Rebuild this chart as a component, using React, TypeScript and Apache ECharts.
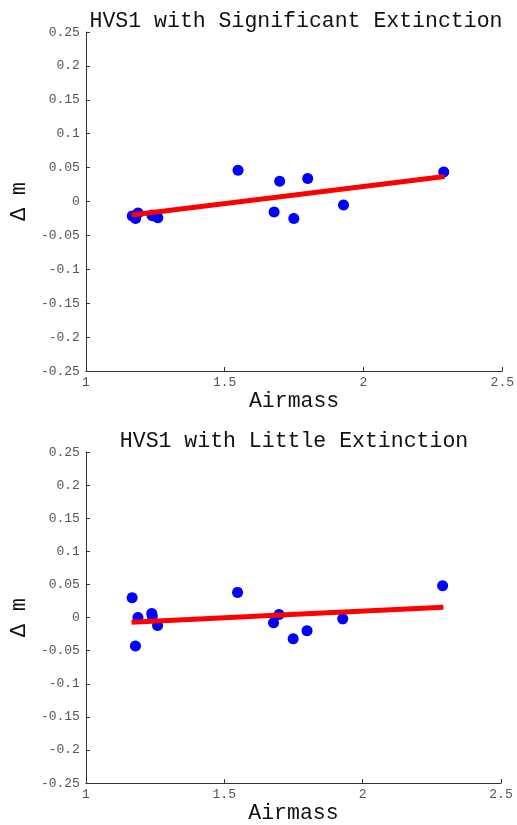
import React, { useEffect, useRef } from "react";
import * as echarts from "echarts";

const airmass = [1.167, 1.179, 1.188, 1.238, 1.240, 1.259, 1.548, 1.678, 1.698, 1.749, 1.799, 1.928, 2.289];
const dmSignificant = [-0.0214, -0.025, -0.017, -0.020, -0.021, -0.024, 0.046, -0.0155, 0.030, -0.025, 0.034, -0.005, 0.0435];
const dmLittle = [0.030, -0.043, 0.000, 0.006, 0.002, -0.012, 0.038, -0.008, 0.0045, -0.032, -0.020, -0.002, 0.048];
const fitX = [1.165, 2.292];
const fitSignificant = [-0.020, 0.037];
const fitLittle = [-0.007, 0.0157];
const titles = ["HVS1 with Significant Extinction", "HVS1 with Little Extinction"];
const xName = "Airmass";
const yName = "\u0394 m";

const FONT = "'Liberation Mono', 'DejaVu Sans Mono', monospace";

export default function App() {
  const ref = useRef<HTMLDivElement>(null);
  useEffect(() => {
    document.body.style.margin = "0";
    document.body.style.overflow = "hidden";
    const chart = echarts.init(ref.current!, undefined, { renderer: "svg" });
    const grids = [
      { left: 82, top: 32, width: 423, height: 339 },
      { left: 79, top: 452, width: 422, height: 339 },
    ];
    const mkX = (i: number) => ({
      type: "value",
      gridIndex: i,
      min: 1,
      max: 2.5,
      interval: 0.5,
      name: xName,
      nameLocation: "middle",
      nameGap: 18,
      nameTextStyle: { fontFamily: FONT, fontSize: 21.5, color: "#111", verticalAlign: "top" },
      axisLine: { show: true, onZero: false, lineStyle: { color: "#333", width: 1 } },
      axisTick: { show: true, inside: true, length: 4, lineStyle: { color: "#333" } },
      axisLabel: {
        fontFamily: FONT,
        fontSize: 13,
        color: "#555",
        margin: 5,
        formatter: (v: number) => String(Math.round(v * 10) / 10),
      },
      splitLine: { show: false },
    });
    const mkY = (i: number) => ({
      type: "value",
      gridIndex: i,
      min: -0.25,
      max: 0.25,
      interval: 0.05,
      name: yName,
      nameLocation: "middle",
      nameRotate: 90,
      nameGap: 52,
      nameTextStyle: { fontFamily: FONT, fontSize: 21.5, color: "#111" },
      axisLine: { show: true, onZero: false, lineStyle: { color: "#333", width: 1 } },
      axisTick: { show: true, inside: true, length: 4, lineStyle: { color: "#333" } },
      axisLabel: {
        fontFamily: FONT,
        fontSize: 13,
        color: "#555",
        margin: 6,
        formatter: (v: number) => String(Math.round(v * 100) / 100),
      },
      splitLine: { show: false },
    });
    const pts = (ys: number[]) => airmass.map((x, k) => [x, ys[k]]);
    const fit = (ys: number[]) => fitX.map((x, k) => [x, ys[k]]);
    chart.setOption({
      animation: false,
      title: [
        {
          text: titles[0],
          left: 291,
          top: 5,
          textAlign: "center",
          textStyle: { fontFamily: FONT, fontSize: 21.5, fontWeight: "normal", color: "#111" },
        },
        {
          text: titles[1],
          left: 289,
          top: 425,
          textAlign: "center",
          textStyle: { fontFamily: FONT, fontSize: 21.5, fontWeight: "normal", color: "#111" },
        },
      ],
      grid: grids,
      xAxis: [mkX(0), mkX(1)],
      yAxis: [mkY(0), mkY(1)],
      series: [
        {
          type: "scatter",
          xAxisIndex: 0,
          yAxisIndex: 0,
          data: pts(dmSignificant),
          symbolSize: 11,
          itemStyle: { color: "#0000ff", opacity: 1 },
        },
        {
          type: "line",
          xAxisIndex: 0,
          yAxisIndex: 0,
          data: fit(fitSignificant),
          showSymbol: false,
          lineStyle: { color: "#ff0000", width: 5 },
          z: 3,
        },
        {
          type: "scatter",
          xAxisIndex: 1,
          yAxisIndex: 1,
          data: pts(dmLittle),
          symbolSize: 11,
          itemStyle: { color: "#0000ff", opacity: 1 },
        },
        {
          type: "line",
          xAxisIndex: 1,
          yAxisIndex: 1,
          data: fit(fitLittle),
          showSymbol: false,
          lineStyle: { color: "#ff0000", width: 5 },
          z: 3,
        },
      ],
    });
    return () => chart.dispose();
  }, []);
  return (
    <div
      ref={ref}
      style={{ position: "fixed", left: 0, top: 0, width: 517, height: 825 }}
    />
  );
}
